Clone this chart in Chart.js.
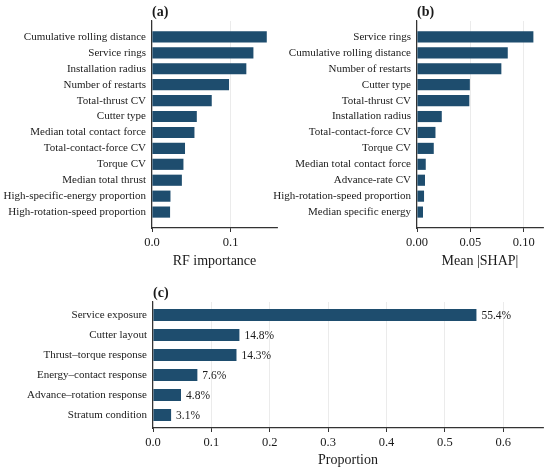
<!DOCTYPE html>
<html>
<head>
<meta charset="utf-8">
<script src="https://cdn.jsdelivr.net/npm/chart.js@4.4.1/dist/chart.umd.min.js"></script>
<style>
  html, body { margin: 0; padding: 0; background: #fff; }
  body { width: 550px; height: 472px; position: relative; overflow: hidden; }
  .panel { position: absolute; }
</style>
</head>
<body>
<div class="panel" style="left:0;top:0;width:290px;height:272px"><canvas id="chartA"></canvas></div>
<div class="panel" style="left:270px;top:0;width:280px;height:272px"><canvas id="chartB"></canvas></div>
<div class="panel" style="left:0;top:275px;width:550px;height:197px"><canvas id="chartC"></canvas></div>
<script>
"use strict";

// (a) random forest importance
const rfLabels = [
  'Cumulative rolling distance', 'Service rings', 'Installation radius',
  'Number of restarts', 'Total-thrust CV', 'Cutter type',
  'Median total contact force', 'Total-contact-force CV', 'Torque CV',
  'Median total thrust', 'High-specific-energy proportion', 'High-rotation-speed proportion'
];
const rfValues = [0.146, 0.129, 0.120, 0.098, 0.076, 0.057, 0.054, 0.042, 0.040, 0.038, 0.0235, 0.023];

// (b) mean |SHAP|
const shapLabels = [
  'Service rings', 'Cumulative rolling distance', 'Number of restarts',
  'Cutter type', 'Total-thrust CV', 'Installation radius',
  'Total-contact-force CV', 'Torque CV', 'Median total contact force',
  'Advance-rate CV', 'High-rotation-speed proportion', 'Median specific energy'
];
const shapValues = [0.109, 0.085, 0.079, 0.0495, 0.049, 0.0232, 0.0173, 0.0157, 0.0082, 0.0075, 0.0066, 0.0056];

// (c) grouped proportion
const groupLabels = [
  'Service exposure', 'Cutter layout', 'Thrust–torque response',
  'Energy–contact response', 'Advance–rotation response', 'Stratum condition'
];
const groupValues = [0.554, 0.148, 0.143, 0.076, 0.048, 0.031];

const barColor = '#1e4d6e';
const textColor = '#1a1a1a';
const serif = "'Liberation Serif', 'Times New Roman', serif";

// bold panel letter, left aligned on the plot area
const panelTag = {
  id: 'panelTag',
  afterDraw(chart, args, opts) {
    const { ctx, chartArea } = chart;
    ctx.save();
    ctx.font = `bold 14px ${serif}`;
    ctx.fillStyle = textColor;
    ctx.textBaseline = 'middle';
    ctx.fillText(opts.text, chartArea.left, chartArea.top - 9);
    ctx.restore();
  }
};

// percentage next to each bar (panel c)
const barValueLabels = {
  id: 'barValueLabels',
  afterDatasetsDraw(chart) {
    const { ctx } = chart;
    const meta = chart.getDatasetMeta(0);
    const ds = chart.data.datasets[0];
    ctx.save();
    ctx.font = `11.5px ${serif}`;
    ctx.fillStyle = textColor;
    ctx.textBaseline = 'middle';
    meta.data.forEach((bar, i) => {
      ctx.fillText((ds.data[i].x * 100).toFixed(1) + '%', bar.x + 5, bar.y + 0.5);
    });
    ctx.restore();
  }
};

function makePanel(id, labels, values, cfg) {
  return new Chart(document.getElementById(id), {
    type: 'bar',
    data: {
      datasets: [{
        data: values.map((v, i) => ({ x: v, y: i })),
        backgroundColor: barColor,
        borderWidth: 0,
        categoryPercentage: 1,
        barPercentage: cfg.barPct
      }]
    },
    options: {
      indexAxis: 'y',
      responsive: true,
      maintainAspectRatio: false,
      animation: false,
      layout: { padding: { top: cfg.top, right: cfg.right, left: 0, bottom: 0 } },
      plugins: {
        legend: { display: false },
        tooltip: { enabled: false },
        panelTag: { text: cfg.tag }
      },
      scales: {
        y: {
          type: 'linear',
          reverse: true,
          offset: false,
          min: cfg.yMin,
          max: labels.length - 1 + cfg.yPadEnd,
          afterFit: s => { s.width = cfg.left; },
          grid: { display: false, drawTicks: false, offset: false },
          border: { display: true, color: '#333', width: 1.2 },
          ticks: {
            stepSize: 1,
            autoSkip: false,
            includeBounds: false,
            padding: 6,
            color: textColor,
            font: { family: serif, size: 11 },
            callback: v => {
              const k = Math.round(v);
              return Math.abs(v - k) < 1e-6 ? labels[k] : undefined;
            }
          }
        },
        x: {
          type: 'linear',
          min: 0,
          max: cfg.xMax,
          afterFit: s => { s.height = cfg.bottom; },
          grid: { color: '#e6e6e6', lineWidth: 0.8, drawTicks: true, tickLength: 4, tickColor: '#333', tickWidth: 1 },
          border: { display: true, color: '#333', width: 1.2 },
          ticks: {
            stepSize: cfg.xStep,
            includeBounds: false,
            padding: 3,
            maxRotation: 0,
            color: textColor,
            font: { family: serif, size: 12.5 },
            callback: v => v.toFixed(cfg.decimals)
          },
          title: {
            display: true,
            text: cfg.xTitle,
            color: textColor,
            font: { family: serif, size: 14 },
            padding: { top: 0, bottom: cfg.titlePad }
          }
        }
      }
    },
    plugins: cfg.extra ? [panelTag, barValueLabels] : [panelTag]
  });
}

makePanel('chartA', rfLabels, rfValues, {
  tag: '(a)', xTitle: 'RF importance', xMax: 0.159, xStep: 0.1, decimals: 1,
  yMin: -1, yPadEnd: 1, barPct: 0.7,
  left: 152, right: 13, top: 21, bottom: 44, titlePad: 2
});

makePanel('chartB', shapLabels, shapValues, {
  tag: '(b)', xTitle: 'Mean |SHAP|', xMax: 0.118, xStep: 0.05, decimals: 2,
  yMin: -1, yPadEnd: 1, barPct: 0.7,
  left: 147, right: 7, top: 21, bottom: 44, titlePad: 2
});

makePanel('chartC', groupLabels, groupValues, {
  tag: '(c)', xTitle: 'Proportion', xMax: 0.668, xStep: 0.1, decimals: 1,
  yMin: -0.65, yPadEnd: 0.65, barPct: 0.6,
  left: 153, right: 7, top: 27, bottom: 44, titlePad: 3.5, extra: true
});
</script>
</body>
</html>
